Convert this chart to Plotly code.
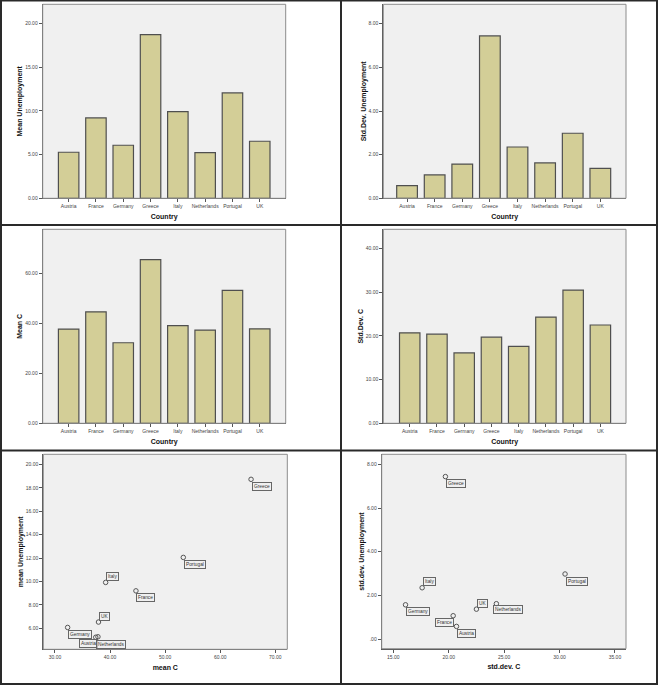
import plotly.graph_objects as go

# ---------------- data ----------------
countries = ["Austria", "France", "Germany", "Greece", "Italy", "Netherlands", "Portugal", "UK"]
mean_unemployment = [5.27, 9.20, 6.07, 18.74, 9.92, 5.23, 12.06, 6.53]
std_unemployment = [0.58, 1.07, 1.57, 7.44, 2.35, 1.62, 2.98, 1.37]
mean_c = [37.8, 44.7, 32.3, 65.6, 39.2, 37.4, 53.3, 37.9]
std_c = [20.7, 20.4, 16.1, 19.7, 17.6, 24.3, 30.5, 22.5]

ticks_mean_unemp = [0, 5, 10, 15, 20]
ticks_std_unemp = [0, 2, 4, 6, 8]
ticks_mean_c = [0, 20, 40, 60]
ticks_std_c = [0, 10, 20, 30, 40]
ticks_sc1_x = [30, 40, 50, 60, 70]
ticks_sc1_y = [6, 8, 10, 12, 14, 16, 18, 20]
ticks_sc2_x = [15, 20, 25, 30, 35]
ticks_sc2_y = [0, 2, 4, 6, 8]
ticktext_sc2_y = [".00", "2.00", "4.00", "6.00", "8.00"]

# label placement for scatter annotations (style only)
place1 = {"Austria": "bl", "France": "br", "Germany": "br", "Greece": "br",
          "Italy": "ar", "Netherlands": "br", "Portugal": "br", "UK": "ar"}
place2 = {"Austria": "br", "France": "bl", "Germany": "br", "Greece": "br",
          "Italy": "ar", "Netherlands": "brc", "Portugal": "br", "UK": "ar"}

# ---------------- layout helpers ----------------
W, H = 658, 685
FONT = "Liberation Sans, Arial, sans-serif"
BAR_FILL = "#D3CE97"
BAR_LINE = "#4f4f4f"
PLOT_BG = "#F0F0F0"
FRAME = "#8c8c8c"


def xd(a, b):
    return [a / W, b / W]


def yd(top, bottom):
    return [1 - bottom / H, 1 - top / H]


panels = [
    ((42.7, 285.7), (4.3, 198.3)),
    ((383.3, 626.0), (4.3, 198.3)),
    ((42.7, 285.7), (229.3, 423.3)),
    ((383.3, 626.0), (229.3, 423.3)),
    ((43.3, 287.3), (454.3, 649.3)),
    ((381.7, 626.0), (454.3, 648.7)),
]

fig = go.Figure()
layout = dict(
    width=W, height=H,
    margin=dict(l=0, r=0, t=0, b=0),
    paper_bgcolor="white",
    plot_bgcolor=PLOT_BG,
    showlegend=False,
    font=dict(family=FONT, size=6, color="#333"),
)

tickfont = dict(family=FONT, size=5, color="#444")
titlefont = dict(family=FONT, size=7, color="#111", weight="bold")

bar_specs = [
    (mean_unemployment, ticks_mean_unemp, [0, 22.2], "Mean Unemployment", [-0.95, 7.95]),
    (std_unemployment, ticks_std_unemp, [0, 8.89], "Std.Dev. Unemployment", [-0.86, 7.93]),
    (mean_c, ticks_mean_c, [0, 77.8], "Mean C", [-0.95, 7.95]),
    (std_c, ticks_std_c, [0, 44.4], "Std.Dev. C", [-0.97, 7.94]),
]

shapes = []
annotations = []

common_axis = dict(ticks="outside", ticklen=3, tickcolor="#555", tickfont=tickfont,
                   tickangle=0, showgrid=False, zeroline=False, showline=True,
                   linecolor="#555", linewidth=1, fixedrange=True, automargin=False)

for i, (vals, yt, yr, ytitle, xr) in enumerate(bar_specs):
    n = i + 1
    xa = "x" if n == 1 else f"x{n}"
    ya = "y" if n == 1 else f"y{n}"
    fig.add_trace(go.Bar(
        x=list(range(len(countries))), y=vals, xaxis=xa, yaxis=ya,
        width=0.75, marker=dict(color=BAR_FILL, line=dict(color=BAR_LINE, width=1.2)),
        hoverinfo="skip"))
    (x0, x1), (y0, y1) = panels[i]
    key = "" if n == 1 else str(n)
    layout["xaxis" + key] = dict(
        domain=xd(x0, x1), anchor=ya, range=xr,
        tickvals=list(range(len(countries))), ticktext=countries,
        title=dict(text="Country", font=titlefont, standoff=5), **common_axis)
    layout["yaxis" + key] = dict(
        domain=yd(y0, y1), anchor=xa, range=yr,
        tickvals=yt, ticktext=[f"{v:.2f}" for v in yt],
        title=dict(text=ytitle, font=titlefont, standoff=1), **common_axis)

scatter_specs = [
    (mean_c, mean_unemployment, ticks_sc1_x, [f"{v:.2f}" for v in ticks_sc1_x],
     ticks_sc1_y, [f"{v:.2f}" for v in ticks_sc1_y], [27.88, 72.18], [4.2, 20.88],
     "mean C", "mean Unemployment", place1),
    (std_c, std_unemployment, ticks_sc2_x, [f"{v:.2f}" for v in ticks_sc2_x],
     ticks_sc2_y, ticktext_sc2_y, [13.95, 36.0], [-0.44, 8.46],
     "std.dev. C", "std.dev. Unemployment", place2),
]

offsets = {
    "br": dict(xanchor="left", yanchor="top", xshift=0.5, yshift=-2.5),
    "brc": dict(xanchor="left", yanchor="top", xshift=-3.5, yshift=-1.5),
    "bl": dict(xanchor="right", yanchor="top", xshift=0.5, yshift=-2.5),
    "ar": dict(xanchor="left", yanchor="bottom", xshift=0.5, yshift=1.5),
}

for j, (xv, yv, xt, xtt, yt, ytt, xr, yr, xtitle, ytitle, place) in enumerate(scatter_specs):
    n = 5 + j
    xa, ya = f"x{n}", f"y{n}"
    fig.add_trace(go.Scatter(
        x=xv, y=yv, xaxis=xa, yaxis=ya, mode="markers",
        marker=dict(symbol="circle-open", size=4.5, color="#555", line=dict(width=1)),
        hoverinfo="skip"))
    (x0, x1), (y0, y1) = panels[n - 1]
    layout[f"xaxis{n}"] = dict(
        domain=xd(x0, x1), anchor=ya, range=xr,
        tickvals=xt, ticktext=xtt,
        title=dict(text=xtitle, font=titlefont, standoff=5), **common_axis)
    layout[f"yaxis{n}"] = dict(
        domain=yd(y0, y1), anchor=xa, range=yr,
        tickvals=yt, ticktext=ytt,
        title=dict(text=ytitle, font=titlefont, standoff=1), **common_axis)
    for c, x, y in zip(countries, xv, yv):
        o = offsets[place[c]]
        annotations.append(dict(
            x=x, y=y, xref=xa, yref=ya, text=c, showarrow=False,
            font=dict(family=FONT, size=4.8, color="#333"),
            bordercolor="#666", borderwidth=1, borderpad=1,
            bgcolor="rgba(240,240,240,0.6)", **o))

# gray frame around each plot area
for (x0, x1), (y0, y1) in panels:
    shapes.append(dict(type="rect", xref="paper", yref="paper",
                       x0=x0 / W, x1=x1 / W, y0=1 - y1 / H, y1=1 - y0 / H,
                       line=dict(color=FRAME, width=1), layer="above"))

# cell borders
border = dict(color="#2a2a2a", width=2)
for (ax0, ay0, ax1, ay1) in [
    (1, 0.5, 657, 0.5), (1, 225, 657, 225), (1, 450.5, 657, 450.5), (1, 684, 657, 684),
    (1, 0, 1, 685), (341, 0, 341, 685), (657, 0, 657, 685),
]:
    shapes.append(dict(type="line", xref="paper", yref="paper",
                       x0=ax0 / W, x1=ax1 / W, y0=1 - ay0 / H, y1=1 - ay1 / H,
                       line=border))

layout["shapes"] = shapes
layout["annotations"] = annotations
fig.update_layout(**layout)
fig.write_html("out.html", config={"displayModeBar": False},
               post_script="document.body.style.margin='0';document.body.style.overflow='hidden';")
